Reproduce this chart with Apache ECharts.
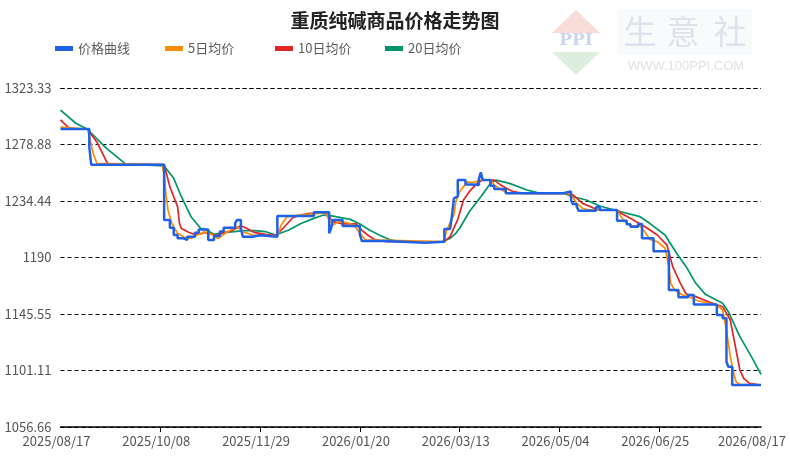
<!DOCTYPE html>
<html><head><meta charset="utf-8">
<script src="https://cdn.jsdelivr.net/npm/echarts@6/dist/echarts.min.js"></script>
<style>html,body{margin:0;padding:0;background:#fff}#c{width:790px;height:458px}</style>
</head><body><div id="c"></div>
<script>
// ---- data ----
const titleText = '重质纯碱商品价格走势图';
const seriesNames = ['价格曲线', '5日均价', '10日均价', '20日均价'];
const seriesColors = ['#1f62e8', '#ff8c00', '#e02626', '#00956a'];
const startDate = [2025, 8, 17];
const dayCount = 366;
const xTickIndex = [0, 52, 104, 156, 208, 260, 312, 365];
const xTickLabels = ['2025/08/17', '2025/10/08', '2025/11/29', '2026/01/20', '2026/03/13', '2026/05/04', '2026/06/25', '2026/08/17'];
const yMin = 3170 / 3, yMax = 3970 / 3, yInterval = 400 / 9;
const yTickLabels = ['1056.66', '1101.11', '1145.55', '1190', '1234.44', '1278.88', '1323.33'];

// price: [dayIndex, new price from that day]
const pricePoints = [[0,1291],[15,1277],[16,1263],[54,1219.5],[57,1213.4],[59,1207.7],[61,1205.1],[64,1203.8],[66,1206.4],[70,1209.5],[72,1212],[77,1203.8],[80,1207],[83,1210.5],[85,1213.5],[91,1217],[92,1219.5],[94,1213],[95,1206.4],[100,1207.5],[104,1206.4],[113,1222.7],[132,1225.6],[140,1209],[141,1213],[142,1219.5],[147,1214.8],[156,1208],[157,1203],[169,1201.6],[190,1202.4],[200,1212.5],[203,1213.7],[204,1223.4],[205,1236.5],[206,1238],[207,1250.9],[211,1247.5],[214,1247],[218,1252],[219,1257],[220,1251],[224,1246.5],[226,1243.9],[232,1240.5],[262,1242],[266,1235],[267,1232],[269,1230],[270,1226.8],[279,1229.5],[281,1227.4],[290,1219],[295,1216.1],[297,1214.2],[301,1216.4],[303,1205.1],[309,1195],[317,1164.4],[322,1158.7],[327,1160.5],[330,1153],[342,1144.8],[345,1142.2],[347,1108],[348,1104],[350,1089.7],[365,1089.7]];

const ma5Points = [[0,1292.5],[14,1291],[15,1285.5],[17,1272],[19,1264],[20,1263],[53,1263],[54,1255],[55,1239],[56,1227.4],[58,1217],[61,1209],[65,1205.6],[68,1205],[72,1208.2],[75,1210.3],[79,1208.2],[82,1205],[87,1210.3],[92,1214.2],[95,1210.3],[100,1207.7],[113,1207],[115,1215.6],[118,1222.1],[125,1223.4],[138,1225.3],[140,1219.5],[142,1215.6],[144,1217.5],[146,1218.2],[149,1217.5],[153,1215.6],[156,1209],[159,1203.8],[200,1202.5],[201,1210.3],[204,1220.8],[205,1223.4],[206,1233.9],[208,1241.8],[212,1249.5],[215,1249],[219,1251],[224,1251],[226,1247],[230,1243.1],[233,1240.5],[264,1240.5],[266,1239.2],[269,1232.6],[272,1228.7],[275,1227.4],[290,1227.4],[292,1222.1],[295,1216.9],[298,1214.8],[302,1214.8],[305,1209],[307,1204.3],[311,1202.4],[315,1197.2],[317,1182.8],[318,1169.7],[320,1164.4],[324,1160.5],[328,1158.7],[332,1156],[342,1152.6],[345,1148.7],[347,1133],[349,1112],[351,1097.6],[352,1092.3],[354,1090.2],[365,1089.7]];

const ma10Points = [[0,1298.2],[5,1290.9],[14,1291],[15,1289],[19,1280.7],[24,1265.4],[25,1263.5],[54,1263],[57,1245.7],[61,1230],[62,1216.9],[63,1212.9],[67,1209.7],[70,1208.2],[73,1208.5],[75,1209.7],[81,1207.4],[84,1209],[89,1211],[94,1215],[97,1213],[101,1209.7],[107,1208.2],[112,1207.4],[116,1213],[121,1221.3],[125,1223.4],[130,1224.8],[138,1225.3],[140,1222.1],[142,1218.2],[147,1216.4],[154,1216.4],[157,1211.6],[160,1207.7],[164,1203.8],[170,1202.4],[200,1202.4],[203,1206.4],[207,1220],[210,1235.2],[213,1241.8],[217,1248.3],[220,1250.9],[226,1250.9],[229,1247.5],[233,1243.9],[236,1241.8],[241,1240.5],[263,1240.5],[267,1239.2],[272,1232.6],[278,1228.7],[281,1227.4],[290,1227.4],[292,1224.8],[297,1220.8],[302,1216.4],[305,1213.8],[311,1207.7],[316,1199.8],[319,1182.8],[323,1169.7],[326,1161.3],[331,1159.2],[338,1155],[345,1151.3],[349,1140.8],[351,1125.1],[354,1101.5],[356,1095],[359,1091],[365,1089.7]];

const ma20Points = [[0,1306],[8,1295.6],[14,1290.9],[24,1275.9],[34,1263.5],[54,1262],[59,1252.3],[63,1237.8],[68,1222.1],[73,1213],[75,1212.5],[80,1208.2],[86,1209.7],[96,1211.1],[101,1211.1],[107,1210.3],[112,1207.7],[119,1211.6],[125,1216.5],[132,1220.8],[137,1223.4],[142,1222.6],[151,1220],[156,1216.4],[161,1211.6],[166,1207.7],[172,1203.8],[177,1202.4],[198,1202],[201,1204],[203,1205],[206,1209],[208,1213],[213,1226],[219,1237.8],[224,1248.3],[227,1250.9],[234,1248.3],[243,1243.1],[250,1240.5],[262,1240.5],[267,1237.8],[274,1235.2],[276,1233.9],[281,1230.5],[292,1226],[302,1222.1],[307,1216.9],[315,1207.7],[321,1193.3],[326,1182.8],[331,1169.7],[336,1161],[345,1154],[348,1147.4],[354,1127.7],[360,1112],[365,1098]];

// ---- categories (one per day) ----
const categories = [];
{
  const d0 = new Date(Date.UTC(startDate[0], startDate[1] - 1, startDate[2]));
  for (let i = 0; i < dayCount; i++) {
    const d = new Date(d0.getTime() + i * 86400000);
    const p = n => String(n).padStart(2, '0');
    categories.push(d.getUTCFullYear() + '/' + p(d.getUTCMonth() + 1) + '/' + p(d.getUTCDate()));
  }
}

const FONT = '"Noto Sans CJK SC", "Noto Sans", sans-serif';
const chart = echarts.init(document.getElementById('c'), null, { renderer: 'canvas' });

const lineSeries = (idx, data, width, extra) => Object.assign({
  name: seriesNames[idx], type: 'line', data: data, symbol: 'none', smooth: false,
  lineStyle: { color: seriesColors[idx], width: width }, itemStyle: { color: seriesColors[idx] },
  animation: false, z: 2 + (idx === 0 ? 5 : 4 - idx)
}, extra || {});

const legendLefts = [50, 160, 270, 380];
const legends = seriesNames.map((n, i) => ({
  data: [n], left: legendLefts[i], top: 37, icon: 'rect', itemWidth: 18, itemHeight: 5, itemGap: 5,
  textStyle: { fontFamily: FONT, fontSize: 13, color: '#5c5c5c' }
}));

chart.setOption({
  backgroundColor: '#fff',
  animation: false,
  title: {
    text: titleText, left: 'center', top: 6,
    textStyle: { fontFamily: FONT, fontSize: 19, fontWeight: 'bold', color: '#222' }
  },
  legend: legends,
  grid: { left: 60.5, right: 29, top: 88, bottom: 31, containLabel: false },
  xAxis: {
    type: 'category', data: categories, boundaryGap: false,
    axisLine: { lineStyle: { color: '#000', width: 1.5 } },
    axisTick: { interval: (i) => xTickIndex.indexOf(i) > 0 && i !== 365, length: 5, lineStyle: { color: '#000' } },
    axisLabel: {
      interval: (i) => xTickIndex.indexOf(i) >= 0,
      formatter: (v, i) => {
        const k = xTickIndex.indexOf(i);
        const t = k >= 0 ? xTickLabels[k] : v;
        return k === xTickIndex.length - 1 ? '{last|' + t + '}' : '{n|' + t + '}';
      },
      margin: 8, color: '#555', fontFamily: FONT, fontSize: 13,
      rich: {
        n: { fontFamily: FONT, fontSize: 13, color: '#555', padding: [0, 8, 0, 0] },
        last: { fontFamily: FONT, fontSize: 13, color: '#555', padding: [0, 18, 0, 0] }
      }
    },
    splitLine: { show: false }
  },
  yAxis: {
    type: 'value', min: yMin, max: yMax, interval: yInterval,
    axisLine: { show: false }, axisTick: { show: false },
    axisLabel: {
      formatter: (v) => yTickLabels[Math.round((v - yMin) / yInterval)] || '',
      margin: 9, color: '#555', fontFamily: FONT, fontSize: 13
    },
    splitLine: { lineStyle: { color: '#000', width: 1, type: [4, 3] } }
  },
  series: [
    lineSeries(1, ma5Points, 1.7),
    lineSeries(2, ma10Points, 1.7),
    lineSeries(3, ma20Points, 1.7),
    lineSeries(0, pricePoints, 2.5, { step: 'end' })
  ],
  graphic: [
    { type: 'rect', shape: { x: 617, y: 9, width: 135, height: 46 }, style: { fill: '#f9fafc' }, z: 0 },
    { type: 'polygon', shape: { points: [[552, 33], [576, 10], [600, 33]] }, style: { fill: '#f8dcd8' }, z: 0 },
    { type: 'text', style: { text: 'PPI', x: 576, y: 41, align: 'center', verticalAlign: 'middle', font: 'bold 17px "DejaVu Serif", serif', fill: '#cdd5ee' }, z: 0 },
    { type: 'polygon', shape: { points: [[552, 52], [600, 52], [576, 75]] }, style: { fill: '#dcefdc' }, z: 0 },
    { type: 'text', style: { text: '生', x: 640, y: 31, align: 'center', verticalAlign: 'middle', font: '33px "Noto Sans CJK SC"', fill: '#dde2ec' }, z: 0 },
    { type: 'text', style: { text: '意', x: 683, y: 31, align: 'center', verticalAlign: 'middle', font: '33px "Noto Sans CJK SC"', fill: '#dde2ec' }, z: 0 },
    { type: 'text', style: { text: '社', x: 730, y: 31, align: 'center', verticalAlign: 'middle', font: '33px "Noto Sans CJK SC"', fill: '#dde2ec' }, z: 0 },
    { type: 'text', style: { text: 'WWW.100PPI.COM', x: 686, y: 66, align: 'center', verticalAlign: 'middle', font: '13px "Liberation Sans", Arial, sans-serif', fill: '#e2e2e2' }, z: 0 }
  ]
});
</script>
</body></html>
